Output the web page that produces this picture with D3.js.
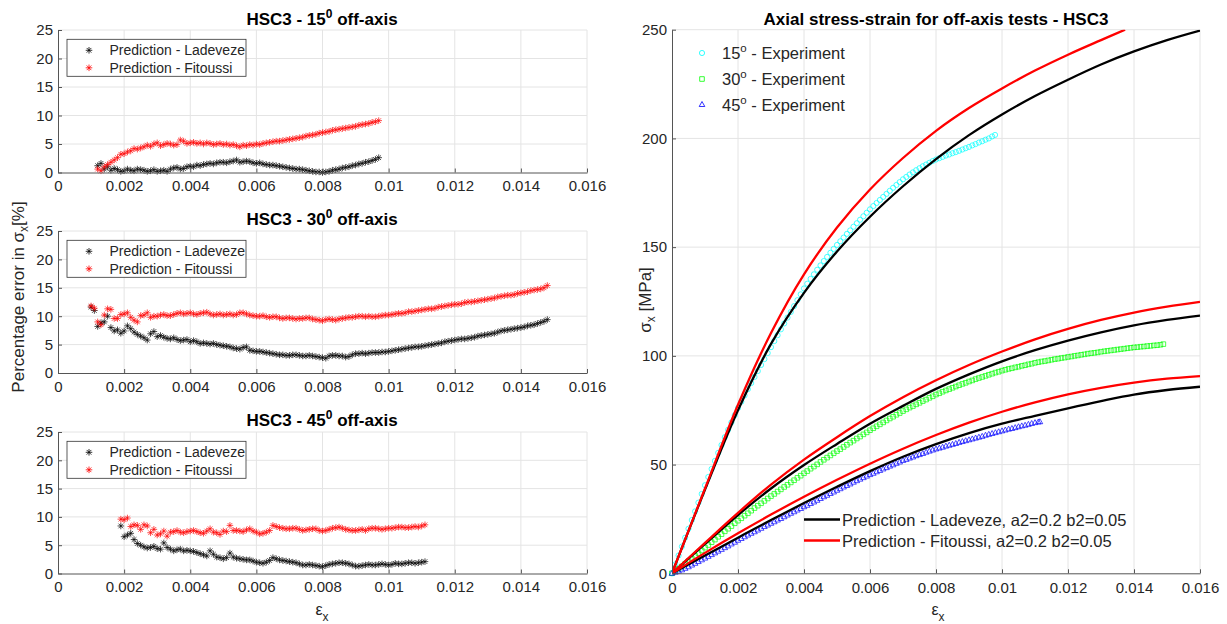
<!DOCTYPE html>
<html><head><meta charset="utf-8">
<script src="https://cdn.jsdelivr.net/npm/d3@7"></script>
<style>
body{margin:0;background:#fff;}
svg text{font-family:"Liberation Sans",Arial,Helvetica,sans-serif;}
</style></head><body>
<svg id="c" width="1227" height="624"></svg>
<script>
// ---------------- DATA ----------------
const strainTicks = [0,0.002,0.004,0.006,0.008,0.01,0.012,0.014,0.016];
const errorTicks = [0,5,10,15,20,25];
const stressTicks = [0,50,100,150,200,250];
const offAxisAngles = ["15","30","45"];
const errSeriesNames = ["Prediction - Ladeveze","Prediction - Fitoussi"];
const expSeriesNames = ["15","30","45"];
const predSeriesNames = ["Prediction - Ladeveze, a2=0.2 b2=0.05","Prediction - Fitoussi, a2=0.2 b2=0.05"];

// percentage error, 15 deg
const err15Strain = [0.0012,0.0013,0.0014,0.0015,0.0016,0.0017,0.0018,0.0019,0.002,0.0021,
 0.0022,0.0023,0.0024,0.0025,0.0026,0.0027,0.0028,0.0029,0.003,0.0031,
 0.0032,0.0033,0.0034,0.0035,0.0036,0.0037,0.0038,0.0039,0.004,0.0041,
 0.0042,0.0043,0.0044,0.0045,0.0046,0.0047,0.0048,0.0049,0.005,0.0051,
 0.0052,0.0053,0.0054,0.0055,0.0056,0.0057,0.0058,0.0059,0.006,0.0061,
 0.0062,0.0063,0.0064,0.0065,0.0066,0.0067,0.0068,0.0069,0.007,0.0071,
 0.0072,0.0073,0.0074,0.0075,0.0076,0.0077,0.0078,0.0079,0.008,0.0081,
 0.0082,0.0083,0.0084,0.0085,0.0086,0.0087,0.0088,0.0089,0.009,0.0091,
 0.0092,0.0093,0.0094,0.0095,0.0096,0.0097];
const err15Ladeveze = [1.2,1.6,0.6,1.0,0.4,0.7,0.5,0.2,0.3,0.6,
 0.4,0.3,0.6,0.5,0.4,0.2,0.3,0.5,0.2,0.3,
 0.4,0.2,0.6,0.8,0.9,0.6,0.7,1.0,1.1,1.0,
 1.3,1.2,1.4,1.5,1.6,1.5,1.7,1.8,1.8,1.7,
 1.9,2.0,2.2,1.8,1.9,2.0,1.9,1.7,1.6,1.7,
 1.5,1.4,1.3,1.3,1.2,1.1,1.0,0.9,0.8,0.7,
 0.6,0.6,0.5,0.4,0.3,0.2,0.1,0.1,0.0,0.1,
 0.2,0.4,0.5,0.6,0.8,0.9,1.0,1.2,1.3,1.5,
 1.6,1.8,1.9,2.1,2.3,2.6];
const err15Fitoussi = [0.6,0.3,1.0,1.4,1.8,2.2,2.6,3.2,3.3,3.6,
 3.8,4.2,4.1,4.3,4.5,4.8,4.6,5.0,5.2,4.7,
 4.9,5.1,5.0,4.8,4.9,5.7,5.5,5.1,5.2,5.3,
 5.1,5.2,5.0,5.2,5.1,4.9,5.0,5.1,4.9,5.0,
 4.8,4.9,4.7,4.5,4.8,4.7,4.9,4.8,5.0,4.9,
 5.1,5.2,5.3,5.4,5.5,5.5,5.6,5.7,5.8,5.9,
 6.0,6.1,6.2,6.4,6.5,6.6,6.7,6.9,7.0,7.1,
 7.2,7.4,7.5,7.6,7.7,7.8,7.9,8.0,8.1,8.3,
 8.4,8.5,8.6,8.8,8.9,9.1];

// percentage error, 30 deg
const err30Strain = [0.001,0.0011,0.0012,0.0013,0.0014,0.0015,0.0016,0.0017,0.0018,0.0019,
 0.002,0.0021,0.0022,0.0023,0.0024,0.0025,0.0026,0.0027,0.0028,0.0029,
 0.003,0.0031,0.0032,0.0033,0.0034,0.0035,0.0036,0.0037,0.0038,0.0039,
 0.004,0.0041,0.0042,0.0043,0.0044,0.0045,0.0046,0.0047,0.0048,0.0049,
 0.005,0.0051,0.0052,0.0053,0.0054,0.0055,0.0056,0.0057,0.0058,0.0059,
 0.006,0.0061,0.0062,0.0063,0.0064,0.0065,0.0066,0.0067,0.0068,0.0069,
 0.007,0.0071,0.0072,0.0073,0.0074,0.0075,0.0076,0.0077,0.0078,0.0079,
 0.008,0.0081,0.0082,0.0083,0.0084,0.0085,0.0086,0.0087,0.0088,0.0089,
 0.009,0.0091,0.0092,0.0093,0.0094,0.0095,0.0096,0.0097,0.0098,0.0099,
 0.01,0.0101,0.0102,0.0103,0.0104,0.0105,0.0106,0.0107,0.0108,0.0109,
 0.011,0.0111,0.0112,0.0113,0.0114,0.0115,0.0116,0.0117,0.0118,0.0119,
 0.012,0.0121,0.0122,0.0123,0.0124,0.0125,0.0126,0.0127,0.0128,0.0129,
 0.013,0.0131,0.0132,0.0133,0.0134,0.0135,0.0136,0.0137,0.0138,0.0139,
 0.014,0.0141,0.0142,0.0143,0.0144,0.0145,0.0146,0.0147,0.0148];
const err30Ladeveze = [11.6,11.0,8.2,8.8,9.0,10.0,8.0,7.4,7.6,7.0,
 7.4,8.3,7.8,7.2,6.8,6.5,6.2,5.8,6.9,7.3,
 6.4,6.6,6.3,6.1,6.0,6.2,5.9,5.7,5.8,5.9,
 5.5,5.7,5.5,5.2,5.3,5.2,5.1,5.2,5.0,4.9,
 4.8,4.7,4.6,4.4,4.3,4.2,4.5,4.6,4.0,3.9,
 3.8,3.8,3.7,3.6,3.5,3.4,3.3,3.2,3.2,3.1,
 3.1,3.2,3.2,3.1,3.0,3.0,3.1,3.0,2.9,2.8,
 2.7,2.6,3.0,3.1,3.1,3.0,3.0,2.8,2.9,3.2,
 3.4,3.4,3.5,3.4,3.5,3.6,3.6,3.6,3.7,3.7,
 3.8,3.9,4.0,4.1,4.2,4.3,4.4,4.5,4.6,4.6,
 4.7,4.8,4.9,5.0,5.1,5.2,5.3,5.5,5.6,5.7,
 5.8,5.9,6.0,6.0,6.1,6.2,6.3,6.5,6.6,6.7,
 6.8,6.9,7.0,7.2,7.4,7.5,7.6,7.7,7.8,7.9,
 8.0,8.1,8.3,8.4,8.5,8.7,8.9,9.1,9.4];
const err30Fitoussi = [11.8,11.4,9.0,8.5,10.2,11.3,11.2,9.6,9.6,10.3,
 10.4,10.6,9.8,9.3,9.0,10.1,10.2,10.6,9.8,10.0,
 10.0,10.2,10.3,10.1,10.1,10.3,10.5,10.6,10.4,10.5,
 10.6,10.4,10.3,10.5,10.6,10.7,10.4,10.2,10.3,10.4,
 10.2,10.3,10.4,10.2,10.3,10.6,10.6,10.4,10.2,10.1,
 10.0,10.0,10.1,9.9,9.8,9.9,9.9,9.7,9.6,9.7,
 9.7,9.6,9.5,9.6,9.6,9.7,9.7,9.5,9.4,9.3,
 9.2,9.4,9.5,9.4,9.3,9.5,9.6,9.7,9.8,9.8,
 9.9,10.0,10.0,9.9,10.0,9.9,9.9,10.0,10.1,10.2,
 10.2,10.3,10.4,10.5,10.5,10.6,10.8,10.8,10.9,11.0,
 11.1,11.2,11.3,11.3,11.4,11.6,11.7,11.8,11.9,12.0,
 12.1,12.1,12.2,12.4,12.5,12.5,12.6,12.7,12.8,12.9,
 13.0,13.1,13.2,13.4,13.5,13.6,13.7,13.7,13.8,14.0,
 14.1,14.2,14.3,14.5,14.6,14.7,14.8,15.0,15.4];

// percentage error, 45 deg
const err45Strain = [0.0019,
 0.002,0.0021,0.0022,0.0023,0.0024,0.0025,0.0026,0.0027,0.0028,0.0029,
 0.003,0.0031,0.0032,0.0033,0.0034,0.0035,0.0036,0.0037,0.0038,0.0039,
 0.004,0.0041,0.0042,0.0043,0.0044,0.0045,0.0046,0.0047,0.0048,0.0049,
 0.005,0.0051,0.0052,0.0053,0.0054,0.0055,0.0056,0.0057,0.0058,0.0059,
 0.006,0.0061,0.0062,0.0063,0.0064,0.0065,0.0066,0.0067,0.0068,0.0069,
 0.007,0.0071,0.0072,0.0073,0.0074,0.0075,0.0076,0.0077,0.0078,0.0079,
 0.008,0.0081,0.0082,0.0083,0.0084,0.0085,0.0086,0.0087,0.0088,0.0089,
 0.009,0.0091,0.0092,0.0093,0.0094,0.0095,0.0096,0.0097,0.0098,0.0099,
 0.01,0.0101,0.0102,0.0103,0.0104,0.0105,0.0106,0.0107,0.0108,0.0109,
 0.011,0.0111];
const err45Ladeveze = [8.4,
 6.5,6.8,7.1,6.0,5.3,5.0,4.7,4.5,4.6,4.8,
 4.4,4.3,5.4,4.6,4.3,4.0,4.2,4.3,4.0,4.1,
 4.0,3.9,3.7,3.5,3.3,3.1,4.0,3.4,2.9,2.8,
 2.6,2.8,3.6,2.9,2.7,2.6,2.5,2.4,2.4,2.2,
 2.0,1.9,1.8,2.0,2.3,2.8,2.6,2.4,2.3,2.2,
 2.1,2.0,1.9,1.7,1.5,1.5,1.6,1.5,1.4,1.3,
 1.2,1.4,1.6,1.7,1.8,1.9,1.9,1.8,1.7,1.5,
 1.3,1.3,1.4,1.5,1.6,1.5,1.5,1.6,1.7,1.6,
 1.5,1.6,1.8,1.7,1.7,1.8,1.9,1.9,1.8,1.9,
 2.0,2.1];
const err45Fitoussi = [9.6,
 9.5,9.8,8.3,8.6,8.5,7.8,8.6,8.4,7.2,7.8,
 6.8,7.0,7.5,6.6,7.3,7.4,7.6,7.3,7.2,7.4,
 7.5,7.6,7.4,7.2,7.1,7.5,7.9,7.3,7.2,6.9,
 7.5,7.4,8.5,7.6,7.6,7.5,7.4,7.7,7.9,7.5,
 7.3,7.0,7.1,7.3,7.6,8.5,8.3,8.1,8.0,7.9,
 7.9,8.0,8.0,7.8,7.6,7.7,7.8,7.9,7.9,7.6,
 7.5,7.6,7.8,8.0,8.1,8.2,8.0,7.8,7.7,7.6,
 7.6,7.7,7.8,7.6,7.9,8.0,8.0,7.9,7.8,7.9,
 8.0,8.0,8.1,8.2,8.2,8.1,8.1,8.2,8.3,8.2,
 8.4,8.6];

// experiments (stress in MPa)
const exp15Strain = [0,0.0001,0.0002,0.0003,0.0004,0.0005,0.0006,0.0007,0.0008,0.0009,
 0.001,0.0011,0.0012,0.0013,0.0014,0.0015,0.0016,0.0017,0.0018,0.0019,
 0.002,0.0021,0.0022,0.0023,0.0024,0.0025,0.0026,0.0027,0.0028,0.0029,
 0.003,0.0031,0.0032,0.0033,0.0034,0.0035,0.0036,0.0037,0.0038,0.0039,
 0.004,0.0041,0.0042,0.0043,0.0044,0.0045,0.0046,0.0047,0.0048,0.0049,
 0.005,0.0051,0.0052,0.0053,0.0054,0.0055,0.0056,0.0057,0.0058,0.0059,
 0.006,0.0061,0.0062,0.0063,0.0064,0.0065,0.0066,0.0067,0.0068,0.0069,
 0.007,0.0071,0.0072,0.0073,0.0074,0.0075,0.0076,0.0077,0.0078,0.0079,
 0.008,0.0081,0.0082,0.0083,0.0084,0.0085,0.0086,0.0087,0.0088,0.0089,
 0.009,0.0091,0.0092,0.0093,0.0094,0.0095,0.0096,0.0097,0.00979];
const exp15Stress = [0,4.1,8.2,12.3,16.4,20.5,24.5,28.5,32.5,36.5,
 40.5,44.3,48.0,51.7,55.4,59.0,62.6,66.0,69.4,72.7,
 76.0,78.9,81.8,84.7,87.5,90.3,93.0,95.8,98.5,101.3,
 104.0,106.8,109.5,112.2,114.9,117.6,120.2,122.9,125.6,128.3,
 131.0,133.2,135.4,137.5,139.6,141.6,143.6,145.5,147.4,149.2,
 151.0,152.7,154.4,156.1,157.7,159.4,161.0,162.6,164.2,165.8,
 167.4,168.9,170.3,171.7,173.1,174.5,175.9,177.3,178.6,179.9,
 181.2,182.3,183.4,184.4,185.4,186.3,187.2,188.0,188.8,189.6,
 190.3,190.9,191.5,192.1,192.6,193.2,193.7,194.3,194.9,195.5,
 196.1,196.8,197.4,198.1,198.7,199.4,200.0,200.9,201.6];
const exp30Strain = [0,0.0001,0.0002,0.0003,0.0004,0.0005,0.0006,0.0007,0.0008,0.0009,
 0.001,0.0011,0.0012,0.0013,0.0014,0.0015,0.0016,0.0017,0.0018,0.0019,
 0.002,0.0021,0.0022,0.0023,0.0024,0.0025,0.0026,0.0027,0.0028,0.0029,
 0.003,0.0031,0.0032,0.0033,0.0034,0.0035,0.0036,0.0037,0.0038,0.0039,
 0.004,0.0041,0.0042,0.0043,0.0044,0.0045,0.0046,0.0047,0.0048,0.0049,
 0.005,0.0051,0.0052,0.0053,0.0054,0.0055,0.0056,0.0057,0.0058,0.0059,
 0.006,0.0061,0.0062,0.0063,0.0064,0.0065,0.0066,0.0067,0.0068,0.0069,
 0.007,0.0071,0.0072,0.0073,0.0074,0.0075,0.0076,0.0077,0.0078,0.0079,
 0.008,0.0081,0.0082,0.0083,0.0084,0.0085,0.0086,0.0087,0.0088,0.0089,
 0.009,0.0091,0.0092,0.0093,0.0094,0.0095,0.0096,0.0097,0.0098,0.0099,
 0.01,0.0101,0.0102,0.0103,0.0104,0.0105,0.0106,0.0107,0.0108,0.0109,
 0.011,0.0111,0.0112,0.0113,0.0114,0.0115,0.0116,0.0117,0.0118,0.0119,
 0.012,0.0121,0.0122,0.0123,0.0124,0.0125,0.0126,0.0127,0.0128,0.0129,
 0.013,0.0131,0.0132,0.0133,0.0134,0.0135,0.0136,0.0137,0.0138,0.0139,
 0.014,0.0141,0.0142,0.0143,0.0144,0.0145,0.0146,0.0147,0.0148,0.01489];
const exp30Stress = [0,1.0,2.1,3.2,4.4,5.6,6.8,8.0,9.3,10.5,
 11.8,13.0,14.3,15.5,16.8,18.0,19.3,20.5,21.7,23.0,
 24.2,25.3,26.5,27.6,28.8,30.0,31.1,32.2,33.3,34.4,
 35.5,36.5,37.6,38.6,39.7,40.7,41.8,42.8,43.9,44.9,
 46.0,47.0,48.1,49.1,50.1,51.2,52.2,53.2,54.2,55.2,
 56.2,57.1,58.1,59.1,60.1,61.0,62.0,62.9,63.9,64.8,
 65.8,66.7,67.6,68.5,69.4,70.3,71.2,72.0,72.9,73.7,
 74.6,75.4,76.2,76.9,77.7,78.4,79.2,79.9,80.7,81.4,
 82.2,82.8,83.5,84.1,84.7,85.3,85.9,86.5,87.1,87.6,
 88.2,88.7,89.3,89.8,90.3,90.8,91.3,91.8,92.3,92.7,
 93.2,93.6,94.0,94.3,94.7,95.0,95.4,95.7,96.1,96.4,
 96.8,97.1,97.4,97.6,97.9,98.2,98.5,98.7,99.0,99.2,
 99.5,99.7,100.0,100.2,100.5,100.7,101.0,101.2,101.4,101.6,
 101.9,102.1,102.3,102.5,102.7,102.9,103.1,103.3,103.5,103.7,
 103.9,104.0,104.2,104.3,104.5,104.6,104.8,104.9,105.1,105.4];
const exp45Strain = [0,0.0001,0.0002,0.0003,0.0004,0.0005,0.0006,0.0007,0.0008,0.0009,
 0.001,0.0011,0.0012,0.0013,0.0014,0.0015,0.0016,0.0017,0.0018,0.0019,
 0.002,0.0021,0.0022,0.0023,0.0024,0.0025,0.0026,0.0027,0.0028,0.0029,
 0.003,0.0031,0.0032,0.0033,0.0034,0.0035,0.0036,0.0037,0.0038,0.0039,
 0.004,0.0041,0.0042,0.0043,0.0044,0.0045,0.0046,0.0047,0.0048,0.0049,
 0.005,0.0051,0.0052,0.0053,0.0054,0.0055,0.0056,0.0057,0.0058,0.0059,
 0.006,0.0061,0.0062,0.0063,0.0064,0.0065,0.0066,0.0067,0.0068,0.0069,
 0.007,0.0071,0.0072,0.0073,0.0074,0.0075,0.0076,0.0077,0.0078,0.0079,
 0.008,0.0081,0.0082,0.0083,0.0084,0.0085,0.0086,0.0087,0.0088,0.0089,
 0.009,0.0091,0.0092,0.0093,0.0094,0.0095,0.0096,0.0097,0.0098,0.0099,
 0.01,0.0101,0.0102,0.0103,0.0104,0.0105,0.0106,0.0107,0.0108,0.0109,
 0.011,0.0111,0.01115];
const exp45Stress = [0,0.5,1.0,1.6,2.3,3.0,3.8,4.6,5.4,6.2,
 7.0,7.8,8.6,9.4,10.2,11.0,11.8,12.6,13.5,14.3,
 15.2,16.0,16.8,17.6,18.4,19.1,19.9,20.7,21.5,22.2,
 23.0,23.7,24.5,25.2,26.0,26.8,27.6,28.3,29.1,29.8,
 30.6,31.3,32.1,32.8,33.6,34.4,35.2,35.9,36.7,37.4,
 38.2,38.9,39.7,40.4,41.1,41.9,42.6,43.3,44.0,44.7,
 45.4,46.0,46.7,47.3,48.0,48.6,49.3,49.9,50.6,51.2,
 51.9,52.4,53.0,53.5,54.1,54.6,55.1,55.7,56.2,56.7,
 57.2,57.6,58.0,58.5,58.9,59.3,59.7,60.2,60.6,61.0,
 61.4,61.8,62.2,62.6,63.0,63.5,63.9,64.3,64.7,65.1,
 65.5,65.9,66.3,66.6,67.0,67.4,67.8,68.1,68.5,68.9,
 69.3,69.6,69.7];

// predictions
const predStrain = [0,0.001,0.002,0.003,0.004,0.005,0.006,0.007,0.008,0.009,0.01,0.011,0.012,0.013,0.014,0.015,0.016];
const pred15Ladeveze = [0,38.5,75.0,105.5,129,148,164,178,190.5,201.5,211,219.5,227,234,240,245.2,249.6];
const pred15FitStrain = [0,0.001,0.002,0.003,0.004,0.005,0.006,0.007,0.008,0.009,0.01,0.011,0.012,0.013,0.01373];
const pred15Fitoussi = [0,39,77.5,110.5,137.5,159,176.5,191,203.5,214,223,231.2,238.5,245.2,250];
const pred30Ladeveze = [0,13.5,26.8,39.0,49.8,59.5,68.8,77.0,84.8,91.5,97.5,102.6,107.0,110.8,114.0,116.5,118.5];
const pred30Fitoussi = [0,14.0,27.8,40.8,52.3,62.6,72.3,81.0,88.8,95.8,102.0,107.6,112.4,116.5,119.9,122.6,124.8];
const pred45Ladeveze = [0,8.2,16.4,24.5,32.3,39.8,47.0,53.6,59.4,64.5,68.8,72.4,75.9,79.2,82.2,84.3,85.8];
const pred45Fitoussi = [0,9.4,18.4,27.0,35.2,43.0,50.4,57.3,63.6,69.3,74.3,78.6,82.3,85.3,87.7,89.5,90.7];

// ---------------- DRAWING ----------------
const svg = d3.select("#c");
const TXT = "#262626", AX = "#555", GRID = "#e4e4e4";
const fmtStrain = d => d === 0 ? "0" : d3.format("~g")(d);

function asterisk(s){
  const d = s*0.7071;
  return `M${-s},0H${s}M0,${-s}V${s}M${-d},${-d}L${d},${d}M${-d},${d}L${d},${-d}`;
}
function gridLines(g, x, y, xt, yt){
  const [l,r] = x.range(), [b,t] = y.range();
  g.append("g").selectAll("line").data(xt.filter(d=>d!==0)).join("line")
    .attr("x1",d=>x(d)).attr("x2",d=>x(d)).attr("y1",t).attr("y2",b)
    .attr("stroke",GRID).attr("stroke-width",1);
  g.append("g").selectAll("line").data(yt.filter(d=>d!==0)).join("line")
    .attr("x1",l).attr("x2",r).attr("y1",d=>y(d)).attr("y2",d=>y(d))
    .attr("stroke",GRID).attr("stroke-width",1);
}
function drawAxes(g, x, y, xt, yt, padX){
  const [l,r] = x.range(), [b,t] = y.range();
  const ax = g.append("g").attr("transform",`translate(0,${b})`)
    .call(d3.axisBottom(x).tickValues(xt).tickFormat(fmtStrain).tickSizeInner(-4).tickSizeOuter(0).tickPadding(padX));
  const ay = g.append("g").attr("transform",`translate(${l},0)`)
    .call(d3.axisLeft(y).tickValues(yt).tickFormat(d3.format("d")).tickSizeInner(-4).tickSizeOuter(0).tickPadding(5));
  [ax,ay].forEach(a=>{
    a.attr("font-size",15).attr("font-family",null);
    a.select(".domain").attr("stroke",AX).attr("stroke-width",1);
    a.selectAll(".tick line").attr("stroke",AX);
    a.selectAll(".tick text").attr("fill",TXT);
  });
}

// ---- left error panels ----
const xL = d3.scaleLinear().domain([0,0.016]).range([58,587]);
const errPanels = [
  {top:30, bottom:172.5, strain:err15Strain, lad:err15Ladeveze, fit:err15Fitoussi, ang:offAxisAngles[0], tb:25},
  {top:231, bottom:373, strain:err30Strain, lad:err30Ladeveze, fit:err30Fitoussi, ang:offAxisAngles[1], tb:225},
  {top:432, bottom:573.5, strain:err45Strain, lad:err45Ladeveze, fit:err45Fitoussi, ang:offAxisAngles[2], tb:426}
];
errPanels.forEach(p=>{
  const y = d3.scaleLinear().domain([0,25]).range([p.bottom,p.top]);
  const g = svg.append("g");
  gridLines(g, xL, y, strainTicks, errorTicks);
  const ladPts = d3.zip(p.strain, p.lad), fitPts = d3.zip(p.strain, p.fit);
  g.append("g").selectAll("path").data(ladPts).join("path")
    .attr("d",asterisk(3.3)).attr("transform",d=>`translate(${xL(d[0])},${y(d[1])})`)
    .attr("stroke","#000").attr("stroke-width",0.7).attr("fill","none");
  g.append("g").selectAll("path").data(fitPts).join("path")
    .attr("d",asterisk(3.3)).attr("transform",d=>`translate(${xL(d[0])},${y(d[1])})`)
    .attr("stroke","#ff0000").attr("stroke-width",0.7).attr("fill","none");
  drawAxes(g, xL, y, strainTicks, errorTicks, 8);
  const lg = g.append("g").attr("transform",`translate(67,${p.top+9.3})`);
  lg.append("rect").attr("width",179).attr("height",37).attr("fill","#fff").attr("stroke","#333").attr("stroke-width",0.8);
  errSeriesNames.forEach((nm,i)=>{
    lg.append("path").attr("d",asterisk(3.3)).attr("transform",`translate(22,${11+i*17.5})`)
      .attr("stroke",i?"#ff0000":"#000").attr("stroke-width",0.8).attr("fill","none");
    lg.append("text").attr("x",42.5).attr("y",16+i*17.5).attr("font-size",14).attr("fill",TXT).text(nm);
  });
  const t = svg.append("text").attr("x",322).attr("y",p.tb).attr("text-anchor","middle")
    .attr("font-size",17).attr("font-weight","bold").attr("fill","#000");
  t.append("tspan").text("HSC3 - "+p.ang);
  t.append("tspan").attr("font-size",12).attr("dy",-7).text("0");
  t.append("tspan").attr("dy",7).text(" off-axis");
});
{
  const t = svg.append("text").attr("transform","translate(24,297) rotate(-90)")
    .attr("text-anchor","middle").attr("font-size",17).attr("fill",TXT);
  t.append("tspan").text("Percentage error in ");
  t.append("tspan").text("\u03C3");
  t.append("tspan").attr("font-size",12).attr("dy",4).text("x");
  t.append("tspan").attr("dy",-4).text("[%]");
}
{
  const t = svg.append("text").attr("x",322).attr("y",615).attr("text-anchor","middle")
    .attr("font-size",16).attr("fill",TXT);
  t.append("tspan").text("\u03B5");
  t.append("tspan").attr("font-size",12).attr("dy",6).text("x");
}

// ---- right stress-strain panel ----
const xR = d3.scaleLinear().domain([0,0.016]).range([672,1200]);
const yR = d3.scaleLinear().domain([0,250]).range([573.3,29.7]);
const gR = svg.append("g");
gridLines(gR, xR, yR, strainTicks, stressTicks);
svg.append("defs").append("clipPath").attr("id","clipR")
  .append("rect").attr("x",672).attr("y",29.7).attr("width",528).attr("height",543.6);

const expSets = [
  {strain:exp15Strain, stress:exp15Stress, color:"#00ffff", shape:"circle"},
  {strain:exp30Strain, stress:exp30Stress, color:"#00ff00", shape:"square"},
  {strain:exp45Strain, stress:exp45Stress, color:"#0000ff", shape:"triangle"}
];
function markerPath(shape){
  if (shape==="circle") return d3.symbol(d3.symbolCircle, 21)();
  if (shape==="square") return "M-2.3,-2.3H2.3V2.3H-2.3Z";
  return "M0,-3L2.8,2H-2.8Z";
}
expSets.forEach(s=>{
  gR.append("g").selectAll("path").data(d3.zip(s.strain,s.stress)).join("path")
    .attr("d",markerPath(s.shape)).attr("transform",d=>`translate(${xR(d[0])},${yR(d[1])})`)
    .attr("fill","none").attr("stroke",s.color).attr("stroke-width",0.7);
});
const lineGen = d3.line().x(d=>xR(d[0])).y(d=>yR(d[1])).curve(d3.curveCatmullRom.alpha(0.5));
const predSets = [
  {pts:d3.zip(predStrain,pred15Ladeveze), color:"#000"},
  {pts:d3.zip(predStrain,pred30Ladeveze), color:"#000"},
  {pts:d3.zip(predStrain,pred45Ladeveze), color:"#000"},
  {pts:d3.zip(pred15FitStrain,pred15Fitoussi), color:"#ff0000"},
  {pts:d3.zip(predStrain,pred30Fitoussi), color:"#ff0000"},
  {pts:d3.zip(predStrain,pred45Fitoussi), color:"#ff0000"}
];
predSets.forEach(s=>{
  gR.append("path").attr("d",lineGen(s.pts)).attr("fill","none")
    .attr("stroke",s.color).attr("stroke-width",2.3).attr("clip-path","url(#clipR)");
});
drawAxes(gR, xR, yR, strainTicks, stressTicks, 9.5);

expSets.forEach((s,i)=>{
  const yy = [53,79,104.5][i];
  gR.append("path").attr("d",markerPath(s.shape)).attr("transform",`translate(702,${yy})`)
    .attr("fill","none").attr("stroke",s.color).attr("stroke-width",0.8);
  const t = gR.append("text").attr("x",722).attr("y",yy+6).attr("font-size",16.5).attr("fill",TXT);
  t.append("tspan").text(expSeriesNames[i]);
  t.append("tspan").attr("font-size",11.5).attr("dy",-7).text("o");
  t.append("tspan").attr("dy",7).text(" - Experiment");
});
predSeriesNames.forEach((nm,i)=>{
  const yy = [519.5,540.5][i];
  gR.append("line").attr("x1",804).attr("x2",840).attr("y1",yy).attr("y2",yy)
    .attr("stroke",i?"#ff0000":"#000").attr("stroke-width",2.3);
  gR.append("text").attr("x",842).attr("y",yy+6).attr("font-size",16.5).attr("fill",TXT).text(nm);
});
svg.append("text").attr("x",936).attr("y",25).attr("text-anchor","middle")
  .attr("font-size",17).attr("font-weight","bold").attr("fill","#000")
  .text("Axial stress-strain for off-axis tests - HSC3");
{
  const t = svg.append("text").attr("transform","translate(651,300) rotate(-90)")
    .attr("text-anchor","middle").attr("font-size",17).attr("fill",TXT);
  t.append("tspan").text("\u03C3");
  t.append("tspan").attr("font-size",12).attr("dy",4).text("x");
  t.append("tspan").attr("dy",-4).text(" [MPa]");
}
{
  const t = svg.append("text").attr("x",938).attr("y",615).attr("text-anchor","middle")
    .attr("font-size",16).attr("fill",TXT);
  t.append("tspan").text("\u03B5");
  t.append("tspan").attr("font-size",12).attr("dy",6).text("x");
}
</script>
</body></html>
